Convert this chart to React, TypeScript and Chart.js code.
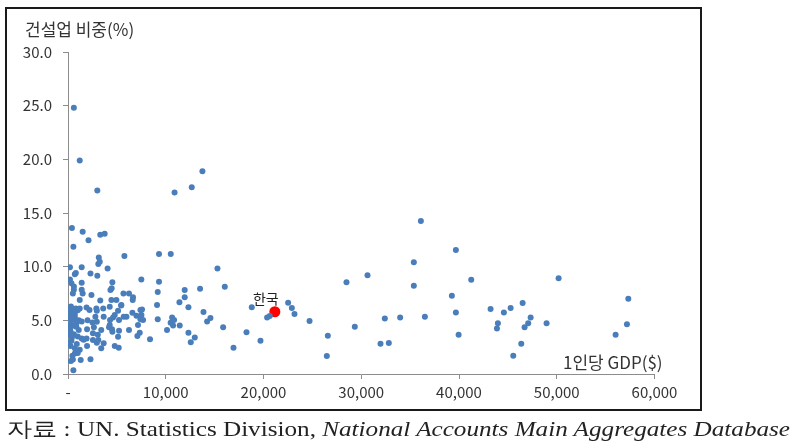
import React, { useEffect, useRef } from "react";
import { Chart, registerables } from "chart.js";

Chart.register(...registerables);

// Per-capita GDP (US$) of each country
const gdpPerCapita: number[] = [
  600, 1200, 400, 1500, 550, 200, 1400, 800, 700, 200, 350, 600, 600, 500, 1400, 1400, 1500, 1200,
  200, 500, 800, 1200, 1000, 300, 400, 700, 200, 600, 1100, 1400, 300, 500, 850, 1100, 250, 600,
  200, 1400, 1600, 350, 250, 700, 1200, 1000, 700, 450, 500, 1300, 550, 150, 400, 150, 900, 300,
  100, 300, 700, 900, 200, 1000,
  3000, 3300, 3750, 2100, 3150, 3100, 3250, 2300, 3000, 2400, 3300, 3600, 2950, 2200, 2800, 2950,
  3400, 2650, 1950, 2550, 3100, 2950, 3400, 3650, 1950, 2300, 2550, 3050, 2900, 1900, 1900, 2000,
  3650, 2500,
  4050, 5770, 7500, 6650, 6240, 6620, 5670, 5460, 4440, 4470, 4540, 4340, 4270, 5120, 4610, 5220,
  5700, 6590, 7000, 7160, 7340, 7100, 6240, 5220, 5120, 4780, 5190, 4270, 4200, 4540, 7570, 8390,
  7410, 7510, 4950, 5430, 4780, 7680, 7410, 5980, 4300, 4500,
  9310, 10510, 9310, 9180, 9110, 9180, 10130, 10650, 10850, 10500, 10750, 11430, 11400, 11940,
  11940, 12320, 13510, 13860, 14230, 14570, 12320, 12970, 12560, 15290, 16040, 15870, 16930, 18260,
  10900, 12660, 13750,
  18800, 19690, 20370, 20640, 22520, 22900, 23170, 24710, 26580, 26480, 28490, 29340, 30640, 31970,
  32820, 32410, 33980, 35380, 35380, 36510, 36100, 39680, 39270, 39680, 39960, 41250, 43230, 44590,
  45280, 46510, 47330, 47080, 46710, 43980, 43880, 46370, 45550, 48960, 50190, 56020, 57180, 57320,
];

// Construction share of GDP (%) of each country
const constructionShare: number[] = [
  24.8, 19.9, 13.6, 13.25, 11.85, 9.95, 9.95, 9.4, 9.3, 8.8, 8.45, 8.15, 7.85, 7.5, 8.5, 7.85, 7.5, 6.9,
  6.1, 6.05, 6.1, 6.1, 5.95, 5.8, 5.5, 5.6, 5.2, 5.1, 5.0, 4.9, 4.7, 4.5, 4.4, 4.1, 4.0, 3.7,
  3.6, 3.3, 3.2, 3.1, 2.6, 2.4, 2.25, 1.95, 1.9, 1.7, 1.35, 1.3, 0.35, 4.3, 3.4, 2.9, 2.8, 1.2,
  5.6, 6.3, 5.3, 4.8, 4.4, 3.5,
  17.1, 12.97, 13.06, 12.45, 10.86, 10.24, 10.46, 9.37, 9.16, 7.36, 6.85, 6.11, 5.9, 5.96, 5.34, 4.87,
  4.1, 4.35, 4.16, 3.17, 3.17, 2.92, 2.39, 2.86, 2.61, 1.37, 3.8, 3.65, 6.1, 6.2, 3.3, 5.0,
  5.34, 4.8,
  9.84, 10.99, 8.81, 7.14, 7.51, 6.89, 7.51, 6.42, 6.89, 7.98, 8.54, 7.82, 6.27, 5.9, 5.27, 5.03,
  5.34, 5.71, 5.43, 4.56, 3.85, 3.54, 4.1, 4.03, 3.48, 2.61, 2.45, 4.56, 4.35, 3.94, 6.02, 3.23,
  5.09, 5.49, 6.89, 6.39, 5.49, 5.03, 5.96, 5.34, 5.03, 4.16,
  11.17, 11.17, 8.6, 7.63, 6.42, 5.09, 4.1, 5.27, 5.03, 4.78, 4.53, 4.53, 6.68, 7.82,
  7.14, 6.21, 7.95, 5.77, 4.9, 5.21, 3.85, 3.41, 2.95, 9.84, 8.13, 4.35, 2.45, 3.88,
  16.9, 17.4, 18.9,
  6.21, 3.1, 5.27, 5.4, 6.64, 6.15, 5.59, 4.93, 3.57, 1.68, 8.54, 4.41, 9.19, 2.82,
  2.89, 5.18, 5.27, 10.4, 8.22, 5.34, 14.25, 11.55, 7.29, 5.74, 3.66, 8.78, 6.05, 5.74,
  6.15, 6.61, 5.27, 4.72, 4.35, 4.72, 4.25, 2.82, 1.71, 4.72, 8.91, 3.66, 4.63, 7.01,
];

const koreaLabel = "한국";
const koreaGdp: number[] = [21160];
const koreaShare: number[] = [5.8];

const xTicks: number[] = [0, 10000, 20000, 30000, 40000, 50000, 60000];
const yTicks: number[] = [0, 5, 10, 15, 20, 25, 30];

const yTitle = "건설업 비중(%)";
const xTitle = "1인당 GDP($)";
const sourcePrefix = "자료 : UN. Statistics Division, ";
const sourceItalic = "National Accounts Main Aggregates Database";

const FONT = "'Noto Sans CJK KR', 'Noto Sans', sans-serif";

export default function App() {
  const canvasRef = useRef<HTMLCanvasElement | null>(null);
  const captionRef = useRef<HTMLSpanElement | null>(null);

  useEffect(() => {
    const span = captionRef.current;
    if (span) {
      const w = span.getBoundingClientRect().width;
      if (w > 0) span.style.transform = `scaleX(${783 / w})`;
    }
    const canvas = canvasRef.current;
    if (!canvas) return;

    const labelPlugin = {
      id: "koreaLabel",
      afterDatasetsDraw(chart: any) {
        const meta = chart.getDatasetMeta(1);
        const el = meta && meta.data && meta.data[0];
        if (!el) return;
        const ctx = chart.ctx;
        ctx.save();
        ctx.font = `14px ${FONT}`;
        ctx.fillStyle = "#222";
        ctx.textAlign = "center";
        ctx.textBaseline = "middle";
        ctx.fillText(koreaLabel, el.x - 9, el.y - 13);
        ctx.restore();
      },
    };

    const chart = new Chart(canvas, {
      type: "scatter",
      data: {
        datasets: [
          {
            data: gdpPerCapita.map((x, i) => ({ x, y: constructionShare[i] })),
            backgroundColor: "#4a7ebb",
            borderWidth: 0,
            pointRadius: 3,
          },
          {
            data: koreaGdp.map((x, i) => ({ x, y: koreaShare[i] })),
            backgroundColor: "#ff0000",
            borderWidth: 0,
            pointRadius: 5.5,
          },
        ],
      },
      options: {
        animation: false,
        responsive: false,
        devicePixelRatio: 1,
        layout: { padding: { left: 0, right: 138.5, top: 52, bottom: 44 } },
        plugins: { legend: { display: false }, tooltip: { enabled: false } },
        scales: {
          x: {
            type: "linear",
            min: 0,
            max: 60000,
            afterFit: (s: any) => {
              s.height = 30;
            },
            afterBuildTicks: (s: any) => {
              s.ticks = xTicks.map((v) => ({ value: v }));
            },
            ticks: {
              font: { family: FONT, size: 15 },
              color: "#333",
              padding: 4,
              maxRotation: 0,
              callback: (v: any) => (Number(v) === 0 ? "-" : Number(v).toLocaleString("en-US")),
            },
            grid: { drawOnChartArea: false, drawTicks: true, tickLength: 5, color: "#8c8c8c" },
            border: { display: true, color: "#8c8c8c" },
          },
          y: {
            type: "linear",
            min: 0,
            max: 30,
            afterFit: (s: any) => {
              s.width = 68;
            },
            afterBuildTicks: (s: any) => {
              s.ticks = yTicks.map((v) => ({ value: v }));
            },
            ticks: {
              font: { family: FONT, size: 15 },
              color: "#333",
              padding: 11,
              callback: (v: any) => Number(v).toFixed(1),
            },
            grid: { drawOnChartArea: false, drawTicks: true, tickLength: 5, color: "#8c8c8c" },
            border: { display: true, color: "#8c8c8c" },
          },
        },
      },
      plugins: [labelPlugin],
    });
    return () => chart.destroy();
  }, []);

  return (
    <div style={{ position: "fixed", left: 0, top: 0, width: 793, height: 448, background: "#fff", overflow: "hidden" }}>
      <canvas ref={canvasRef} width={793} height={448} style={{ position: "absolute", left: 0, top: 0 }} />
      <div
        style={{
          position: "absolute",
          left: 5,
          top: 7,
          width: 697,
          height: 404,
          border: "2px solid #1a1a1a",
          boxSizing: "border-box",
          pointerEvents: "none",
        }}
      />
      <div style={{ position: "absolute", left: 25, top: 20, fontFamily: FONT, fontSize: 17, lineHeight: "17px", color: "#333", whiteSpace: "nowrap" }}>
        {yTitle}
      </div>
      <div style={{ position: "absolute", left: 563, top: 353, fontFamily: FONT, fontSize: 17, lineHeight: "17px", color: "#333", whiteSpace: "nowrap" }}>
        {xTitle}
      </div>
      <div style={{ position: "absolute", left: 7, top: 417, lineHeight: "24px", whiteSpace: "nowrap" }}>
        <span
          ref={captionRef}
          style={{
            display: "inline-block",
            transformOrigin: "0 0",
            fontFamily: "'Liberation Serif', serif",
            fontSize: 21,
            color: "#222",
          }}
        >
          {sourcePrefix}
          <i>{sourceItalic}</i>
        </span>
      </div>
    </div>
  );
}
